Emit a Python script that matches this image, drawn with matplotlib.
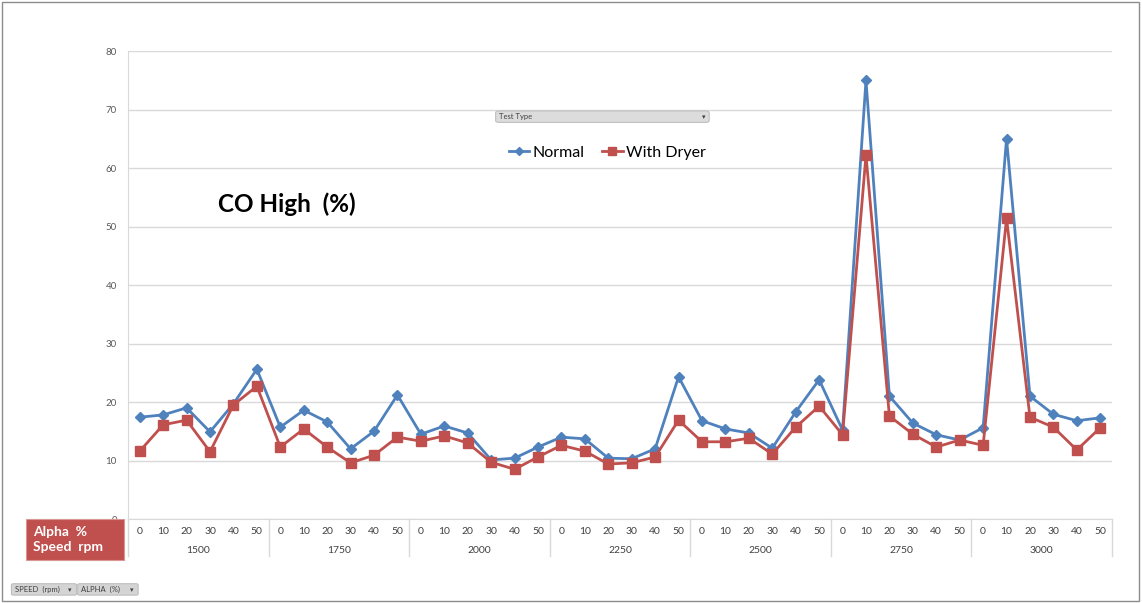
import numpy as np
import matplotlib.pyplot as plt
from matplotlib.patches import Rectangle, FancyBboxPatch
from matplotlib.transforms import blended_transform_factory

plt.rcParams['font.family'] = ['Lato', 'DejaVu Sans']

# Datos: CO alto (%) por velocidad (rpm) y alpha (%)
speeds = [1500, 1750, 2000, 2250, 2500, 2750, 3000]
alphas = [0, 10, 20, 30, 40, 50]

normal = [17.4, 17.8, 19.0, 14.9, 19.7, 25.6,
          15.7, 18.6, 16.6, 12.0, 15.0, 21.2,
          14.5, 15.9, 14.7, 10.1, 10.4, 12.3,
          14.0, 13.7, 10.4, 10.3, 12.0, 24.3,
          16.8, 15.4, 14.7, 12.1, 18.3, 23.8,
          15.2, 75.0, 21.0, 16.4, 14.4, 13.5,
          15.6, 65.0, 21.0, 17.9, 16.8, 17.3]

with_dryer = [11.6, 16.1, 16.9, 11.5, 19.5, 22.7,
              12.3, 15.4, 12.3, 9.6, 10.9, 14.0,
              13.3, 14.2, 13.0, 9.7, 8.5, 10.6,
              12.6, 11.6, 9.4, 9.6, 10.6, 16.9,
              13.2, 13.2, 13.8, 11.1, 15.7, 19.3,
              14.4, 62.2, 17.6, 14.5, 12.3, 13.5,
              12.6, 51.4, 17.4, 15.7, 11.8, 15.6]

fig = plt.figure(figsize=(11.42, 6.03), dpi=100)
ax = fig.add_axes([0.1121, 0.1393, 0.8616, 0.7761])

x = np.arange(len(normal))
blue = '#4F81BD'
red = '#C0504D'
ax.plot(x, normal, color=blue, lw=2, marker='D', ms=5, label='Normal', zorder=3)
ax.plot(x, with_dryer, color=red, lw=2, marker='s', ms=7, label='With Dryer', zorder=3)

ax.set_xlim(-0.5, len(normal) - 0.5)
ax.set_ylim(0, 80)
ax.set_yticks(range(0, 81, 10))
ax.yaxis.grid(True, color='#D9D9D9', lw=1)
ax.set_axisbelow(True)
ax.tick_params(axis='y', length=0, labelsize=7, labelcolor='#595959', pad=8)
ax.set_xticks([])
for s in ['top', 'right']:
    ax.spines[s].set_visible(False)
ax.spines['left'].set_color('#D9D9D9')
ax.spines['bottom'].set_color('#D9D9D9')

# etiquetas de categoria en dos niveles
trans = blended_transform_factory(ax.transData, ax.transAxes)
for i in x:
    ax.text(i, -0.026, str(alphas[i % 6]), transform=trans, ha='center', va='center',
            fontsize=7.5, color='#404040')
for g, sp in enumerate(speeds):
    ax.text(g * 6 + 2.5, -0.067, str(sp), transform=trans, ha='center', va='center',
            fontsize=7.5, color='#404040')
for b in np.arange(-0.5, len(normal), 6):
    ax.plot([b, b], [0, -0.08], transform=trans, color='#D9D9D9', lw=1, clip_on=False)

# leyenda y titulo
ax.legend(loc='center', bbox_to_anchor=(0.487, 0.783), ncol=2, frameon=False,
          fontsize=11.5, handlelength=1.3, columnspacing=1.1, handletextpad=0.2,
          markerscale=0.8)
fig.text(0.191, 0.662, 'CO High  (%)', fontsize=17.5, fontweight='bold', color='black',
         va='center')

# boton "Test Type"
fig.patches.append(FancyBboxPatch((0.434, 0.797), 0.187, 0.019,
                                  boxstyle='round,pad=0,rounding_size=0.003',
                                  transform=fig.transFigure, fc='#DCDCDC', ec='#BFBFBF', lw=0.8))
fig.text(0.437, 0.8065, 'Test Type', fontsize=5.5, color='#404040', va='center')
fig.text(0.616, 0.8065, '▾', fontsize=5, color='#404040', va='center', ha='center')

# recuadro rojo de campos
fig.patches.append(Rectangle((0.0228, 0.071), 0.0858, 0.068, transform=fig.transFigure,
                             fc=red, ec='#D99694', lw=0.8))
fig.text(0.029, 0.105, 'Alpha  %\nSpeed  rpm', fontsize=10, fontweight='bold',
         color='white', va='center', linespacing=1.3)

# botones de filtro inferiores
for x0, w, lbl in [(0.010, 0.057, 'SPEED  (rpm)'), (0.068, 0.053, 'ALPHA  (%)')]:
    fig.patches.append(FancyBboxPatch((x0, 0.013), w, 0.019,
                                      boxstyle='round,pad=0,rounding_size=0.002',
                                      transform=fig.transFigure, fc='#D4D4D4',
                                      ec='#BFBFBF', lw=0.8))
    fig.text(x0 + 0.003, 0.0225, lbl, fontsize=5.5, color='#404040', va='center')
    fig.text(x0 + w - 0.006, 0.0225, '▾', fontsize=5, color='#404040', va='center',
             ha='center')

# marco exterior
fig.patches.append(Rectangle((0.002, 0.004), 0.995, 0.993, transform=fig.transFigure,
                             fill=False, ec='#8C8C8C', lw=1))

fig.savefig('out.png', dpi=100)
